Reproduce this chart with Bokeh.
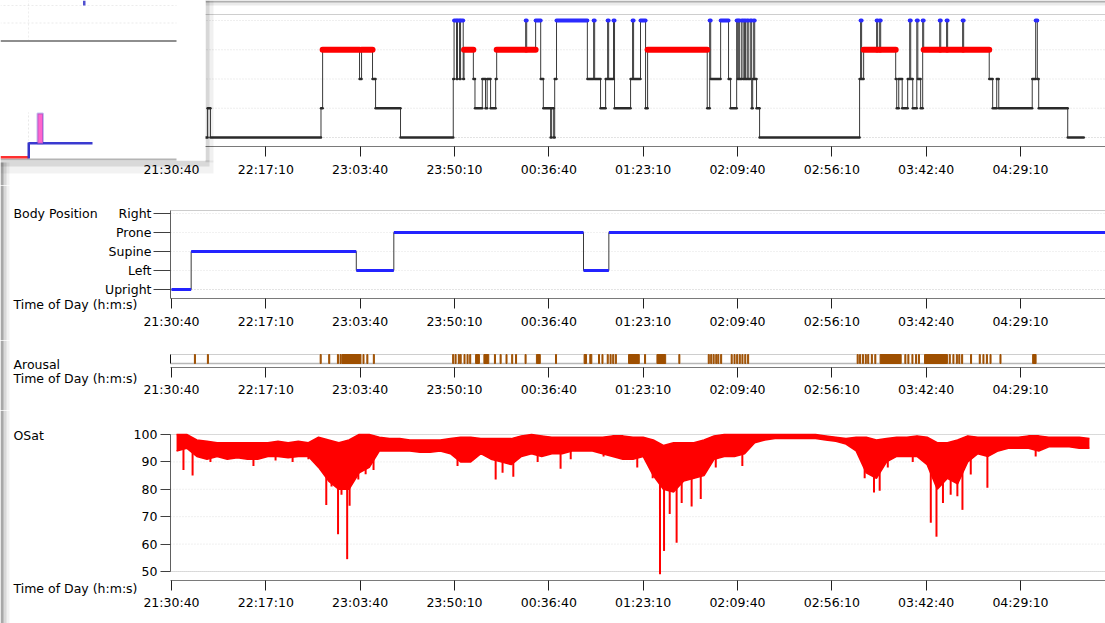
from bokeh.plotting import figure
from bokeh.layouts import column
from bokeh.models import FixedTicker, Range1d, BoxAnnotation, Label
from bokeh.embed import file_html
from bokeh.resources import INLINE

# ---------------- data (time = minutes after 21:30:40) ----------------
tick_labels = ["21:30:40", "22:17:10", "23:03:40", "23:50:10", "00:36:40",
               "01:23:10", "02:09:40", "02:56:10", "03:42:40", "04:29:10"]
tick_minutes = [0, 46.5, 93, 139.5, 186, 232.5, 279, 325.5, 372, 418.5]

# hypnogram: stage changes
hyp_start = [0, 17.8, 19.2, 73.7, 74.5, 92.7, 93.7, 99.1, 100.6, 112.9,
             138.9, 139.3, 140.5, 141.0, 142.0, 142.5, 143.8, 144.2, 148.8, 149.6,
             153.2, 154.8, 155.6, 157.3, 159.8, 160.3, 174.6, 175.1, 179.5, 182.0,
             183.3, 186.9, 187.4, 188.4, 188.9, 189.8, 205.0, 208.1, 208.6, 211.5,
             214.0, 215.0, 215.5, 217.9, 218.4, 226.3, 227.3, 227.8, 231.2, 233.7,
             234.7, 264.1, 265.3, 265.8, 270.7, 274.6, 275.6, 278.6, 279.1, 279.6,
             280.1, 281.1, 281.8, 282.5, 283.0, 283.8, 284.3, 285.3, 286.0, 286.5,
             287.0, 287.5, 288.4, 289.9, 339.2, 339.7, 340.2, 341.2, 347.6, 348.1,
             349.1, 349.6, 357.0, 357.5, 358.5, 360.2, 362.9, 363.9, 364.4, 365.4,
             367.4, 367.9, 369.3, 370.3, 370.8, 378.7, 379.2, 382.1, 382.6, 390.0,
             390.5, 403.1, 404.8, 406.8, 407.8, 424.3, 426.0, 426.8, 427.5, 441.8]
hyp_stage = ["N3", "N2", "N3", "N2", "REM", "N1", "REM", "N1", "N2", "N3",
             "N1", "W", "N1", "W", "N1", "W", "N1", "REM", "N1", "N2",
             "N1", "N2", "N1", "N2", "N1", "REM", "W", "REM", "W", "N1",
             "N2", "N3", "N2", "N3", "N1", "W", "N1", "W", "N1", "N2",
             "N1", "W", "N1", "W", "N2", "N1", "W", "N1", "W", "N2",
             "REM", "N2", "W", "N1", "W", "N1", "N2", "W", "N1", "W",
             "N1", "W", "N1", "W", "N1", "W", "N1", "W", "N2", "N1",
             "W", "N1", "N2", "N3", "N1", "W", "N1", "REM", "W", "REM",
             "W", "REM", "N1", "N2", "N1", "N2", "N1", "W", "N1", "N2",
             "W", "N1", "N2", "W", "REM", "W", "REM", "W", "REM", "W",
             "REM", "N1", "N2", "N1", "N2", "N1", "W", "N1", "N2", "N3"]
hyp_end = 449.7
stage_levels = {"N3": 0, "N2": 1, "N1": 2, "REM": 3, "W": 4}

# body position
bp_start = [0, 9.7, 91.1, 109.6, 203.1, 215.6]
bp_pos = ["Upright", "Supine", "Left", "Prone", "Left", "Prone"]
bp_end = 465.0
positions = ["Upright", "Left", "Supine", "Prone", "Right"]

# arousals
ar_start = [11.3, 17.7, 73.3, 77.5, 81.8, 83.1, 84.0, 94.4, 96.3, 99.5,
            138.6, 139.8, 141.4, 142.3, 144.2, 145.7, 147.0, 149.9, 154.0, 159.2,
            162.0, 164.9, 167.7, 169.6, 174.3, 179.9, 189.3, 203.4, 206.2, 210.5,
            212.2, 214.8, 216.2, 217.5, 218.8, 225.3, 233.2, 239.3, 250.1, 264.6,
            265.8, 267.0, 268.3, 269.3, 270.7, 275.9, 277.3, 278.6, 279.9, 281.2,
            282.6, 284.0, 338.0, 339.2, 340.6, 342.0, 343.2, 345.0, 346.7, 349.3,
            361.5, 363.0, 365.0, 366.8, 368.2, 371.2, 383.4, 385.2, 386.9, 388.1,
            389.5, 393.9, 398.2, 400.0, 401.7, 403.5, 408.4, 424.5]
ar_end = [11.8, 18.2, 73.8, 78.0, 82.3, 83.6, 93.4, 94.9, 96.8, 100.0,
          139.1, 140.3, 141.9, 142.8, 144.7, 146.2, 147.5, 151.8, 156.4, 159.7,
          162.5, 165.4, 168.2, 170.1, 174.8, 181.8, 189.8, 204.6, 207.2, 211.0,
          212.7, 215.3, 216.7, 218.0, 219.3, 230.6, 233.7, 243.6, 250.6, 265.1,
          266.3, 267.5, 268.8, 269.8, 271.2, 276.4, 277.8, 279.1, 280.4, 281.7,
          283.1, 284.5, 338.5, 339.7, 341.1, 342.5, 343.7, 345.5, 347.2, 359.7,
          362.0, 363.5, 365.5, 367.3, 368.7, 382.5, 383.9, 385.7, 387.4, 388.6,
          390.0, 394.4, 398.7, 400.5, 402.2, 404.0, 408.9, 426.2]

# oxygen saturation: 5-minute bins, upper / lower edge of the dense trace
osat_bin = 5.0
osat_hi = [100, 100, 98, 97.5, 97, 97, 97, 97, 97, 97,
           97.5, 97, 97.5, 97, 99, 98, 97, 98, 100, 100,
           99, 98.5, 98.5, 98, 98, 98, 98, 98.5, 99, 99,
           98.5, 98.5, 98.5, 98.5, 99.5, 100, 99.5, 99, 99, 99,
           99, 99, 99, 99.5, 99.5, 99, 99, 98, 96, 97,
           97, 97, 98, 99.5, 100, 100, 100, 100, 100, 100,
           100, 100, 100, 100, 99.5, 99, 98.5, 99, 99, 98,
           98.5, 99, 99, 99.5, 99, 97, 97, 98, 99.5, 99,
           99, 99, 99, 99, 99.5, 99.5, 99, 99, 99, 99,
           98.5]
osat_lo = [94, 95, 92, 91, 92, 91, 91.5, 91, 91, 92,
           92, 91.5, 92, 92, 88, 83, 80, 80, 86, 88,
           94, 94, 94, 94, 93.5, 93.5, 94, 93, 90, 90,
           93, 91, 90, 89, 92, 93, 92, 93, 93, 94,
           94, 94, 93, 92, 91, 91, 92, 85, 80, 79,
           83, 84, 85, 91, 92, 92, 93, 97, 98, 98.5,
           98.5, 98.5, 98.5, 98.5, 98, 97.5, 96.5, 94, 86, 84,
           90, 92, 92, 92, 89, 80, 84, 82, 90, 93,
           92, 94, 95, 95, 95, 94, 95.5, 95.5, 95.5, 95,
           95]
# brief desaturation spikes: time and lowest value
spike_t = [5.9, 10.4, 19.2, 40.4, 51.3, 59.7, 67.5, 76.3, 78.9, 82.1,
           83.8, 86.6, 87.8, 92.1, 95.7, 99.6, 141.0, 159.8, 163.2, 168.5,
           180.5, 191.8, 196.8, 213.0, 229.6, 237.2, 240.8, 242.8, 245.6, 249.0,
           251.5, 256.4, 260.9, 268.3, 281.4, 341.7, 346.3, 349.1, 353.1, 365.4,
           374.3, 377.1, 380.3, 384.1, 387.4, 389.9, 394.0, 402.2, 426.0]
spike_v = [87, 85, 90, 88.5, 90.5, 90, 91, 74.3, 81, 63.6,
           78, 54.5, 74, 83.6, 85.5, 87, 88.5, 83.6, 86, 84.6,
           90, 87.5, 91, 92, 88, 84, 49, 57.5, 71, 60.5,
           75, 73.7, 76.5, 88, 88.5, 84, 78.8, 79.5, 88, 90,
           67.8, 62.7, 75, 78, 77.5, 72.5, 85.4, 80.6, 92]
osat_ticks = [50, 60, 70, 80, 90, 100]

assert len(hyp_start) == len(hyp_stage)
assert len(ar_start) == len(ar_end)
assert len(osat_hi) == len(osat_lo)
assert len(spike_t) == len(spike_v)

# ---------------- styling ----------------
FONT = "DejaVu Sans"
FS = "12.5px"
TXT = "#000000"
W = 1105
X0, X1 = -84.29, 460.42      # whole canvas width
YAX = -0.5                   # where the value axes sit (just before 21:30:40)
LABEL_X = -77.9              # left-hand captions


def base_fig(height, y0, y1, xaxis_at):
    p = figure(width=W, height=height, x_range=Range1d(X0, X1), y_range=Range1d(y0, y1),
               output_backend="svg", toolbar_location=None, min_border=0)
    p.min_border_left = p.min_border_right = p.min_border_top = p.min_border_bottom = 0
    p.outline_line_color = None
    p.background_fill_color = "white"
    p.border_fill_color = "white"
    p.xgrid.visible = False
    p.ygrid.visible = False
    xa = p.xaxis[0]
    xa.fixed_location = xaxis_at
    xa.bounds = (YAX, X1)
    xa.ticker = FixedTicker(ticks=tick_minutes)
    xa.major_label_overrides = dict(zip(tick_minutes, tick_labels))
    xa.minor_tick_line_color = None
    xa.major_tick_in = 0
    xa.major_tick_out = 10
    xa.axis_line_color = "#7a7a7a"
    xa.major_tick_line_color = "#202020"
    xa.major_label_text_font = FONT
    xa.major_label_text_font_size = FS
    xa.major_label_text_color = TXT
    xa.major_label_standoff = 5
    ya = p.yaxis[0]
    ya.fixed_location = YAX
    ya.minor_tick_line_color = None
    ya.major_tick_in = 0
    ya.major_tick_out = 10
    ya.axis_line_color = "#606060"
    ya.major_tick_line_color = "#404040"
    ya.major_label_text_font = FONT
    ya.major_label_text_font_size = FS
    ya.major_label_text_color = TXT
    ya.major_label_standoff = 3
    return p


def hline(p, y, color, dash="1 2", lw=1):
    p.add_layout(BoxAnnotation(left=YAX, top=y, bottom=y, fill_color=None, fill_alpha=0,
                               line_color=color, line_dash=dash, line_width=lw,
                               level="underlay"))


def caption(p, y, text):
    p.add_layout(Label(x=LABEL_X, y=y, text=text, text_font=FONT, text_font_size=FS,
                       text_color=TXT, text_baseline="middle", text_align="left"))


def cbox(p, l, r, t, b, fill, alpha=1.0, line=None, lw=1, dash="solid"):
    p.add_layout(BoxAnnotation(left=l, right=r, top=t, bottom=b,
                               left_units="canvas", right_units="canvas",
                               top_units="canvas", bottom_units="canvas",
                               fill_color=fill, fill_alpha=alpha,
                               line_color=line, line_width=lw, line_dash=dash,
                               level="overlay"))


def window_edge(p, height, top=0):
    # grey border of the captured window on the left side
    cbox(p, 0, 3, top, height, "#000000", 0.22)
    cbox(p, 0, 6, top, height, "#000000", 0.10)
    cbox(p, 0, 9, top, height, "#000000", 0.05)


# ---------------- 1. hypnogram ----------------
p1 = base_fig(185, -1.641, 4.684, -0.308)
p1.yaxis.visible = False
for lev in [0, 1, 2, 3, 4]:
    hline(p1, lev, "#9a9a9a" if lev == 0 else "#c8c8c8")
hline(p1, 4.205, "#a0a0a0", dash="solid")
hyp_lvl = [stage_levels[s] for s in hyp_stage]
hyp_stop = hyp_start[1:] + [hyp_end]
p1.step(x=hyp_start + [hyp_end], y=hyp_lvl + [hyp_lvl[-1]], mode="after",
        line_color="#3a3a3a", line_width=1)
for stages, col, lw in [(("N1", "N2", "N3"), "#2a2a2a", 2.5),
                        (("REM",), "#ff0000", 6),
                        (("W",), "#2b2bff", 4)]:
    idx = [i for i, s in enumerate(hyp_stage) if s in stages]
    p1.segment(x0=[hyp_start[i] for i in idx], x1=[hyp_stop[i] for i in idx],
               y0=[hyp_lvl[i] for i in idx], y1=[hyp_lvl[i] for i in idx],
               line_color=col, line_width=lw, line_cap="round")

# overlapping window in the top-left corner of the screenshot
cbox(p1, 205, 1105, 0, 2, "#000000", 0.25)
cbox(p1, 205, 1105, 0, 5, "#000000", 0.08)
cbox(p1, 205, 213, 0, 162, "#000000", 0.06)
cbox(p1, 205, 209, 0, 161, "#000000", 0.10)
cbox(p1, 0, 213, 160, 173, "#000000", 0.05)
cbox(p1, 0, 209, 160, 166, "#000000", 0.10)
cbox(p1, 0, 205, 0, 160, "white", 1.0)
cbox(p1, 0, 176, 5, 5, None, 0.0, line="#b8b8b8", dash="1 3")
cbox(p1, 82.5, 85, 0, 5, "#5050d0")
cbox(p1, 0, 176, 22.5, 22.5, None, 0.0, line="#b8b8b8", dash="1 3")
cbox(p1, 28, 28, 0, 40, None, 0.0, line="#c0c0c0", dash="1 3")
cbox(p1, 28, 28, 112, 140, None, 0.0, line="#b0b0b0", dash="1 3")
cbox(p1, 0, 176, 39.5, 41.5, "#8e8e8e")
cbox(p1, 0, 176, 158, 160, "#b4b4b4")
cbox(p1, 0, 28, 155.5, 158, "#ff3030")
cbox(p1, 27, 29.5, 142, 158, "#3434c8")
cbox(p1, 28, 92, 141.5, 144, "#3a3ad0")
cbox(p1, 37, 42.5, 113, 143, "#ff66cc", 1.0, line="#3434c8", lw=2)
window_edge(p1, 185, 162)

# ---------------- 2. body position ----------------
p2 = base_fig(155, -2.684, 5.474, -0.474)
ya2 = p2.yaxis[0]
ya2.ticker = FixedTicker(ticks=[0, 1, 2, 3, 4])
ya2.major_label_overrides = {i: n for i, n in enumerate(positions)}
ya2.bounds = (-0.474, 4.158)
ya2.major_tick_out = 17
ya2.major_label_standoff = 2
for lev in [0, 1, 2, 3, 4]:
    hline(p2, lev, "#9a9a9a" if lev == 0 else "#cccccc")
hline(p2, 4.158, "#9a9a9a", dash="solid")
bp_lvl = [positions.index(s) for s in bp_pos]
bp_stop = bp_start[1:] + [bp_end]
p2.step(x=bp_start + [bp_end], y=bp_lvl + [bp_lvl[-1]], mode="after",
        line_color="#3a3a3a", line_width=1)
p2.segment(x0=bp_start, x1=bp_stop, y0=bp_lvl, y1=bp_lvl,
           line_color="#2323ff", line_width=3)
caption(p2, 4.0, "Body Position")
caption(p2, -0.79, "Time of Day (h:m:s)")
window_edge(p2, 155)

# ---------------- 3. arousal ----------------
p3 = base_fig(70, -5.222, 2.556, -0.444)
ya3 = p3.yaxis[0]
ya3.ticker = FixedTicker(ticks=[])
ya3.major_label_text_font_size = "0px"
ya3.axis_line_color = "#101010"
ya3.bounds = (0, 1)
hline(p3, 1, "#a0a0a0", dash="solid")
p3.quad(left=ar_start, right=ar_end, bottom=0, top=1,
        fill_color="#9e4f00", line_color="#9e4f00", line_width=1)
hline(p3, 0, "#101010", dash="solid", lw=1.5)
caption(p3, -0.1, "Arousal")
caption(p3, -1.67, "Time of Day (h:m:s)")
window_edge(p3, 70)

# ---------------- 4. oxygen saturation ----------------
p4 = base_fig(213, 31.02, 108.76, 46.72)
ya4 = p4.yaxis[0]
ya4.ticker = FixedTicker(ticks=osat_ticks)
ya4.bounds = (50, 100)
for lev in [60, 70, 80, 90]:
    hline(p4, lev, "#cccccc")
for lev in (50, 100):
    hline(p4, lev, "#7c7c7c", dash="1 1")
bin_mid = [i * osat_bin + osat_bin / 2 for i in range(len(osat_hi))]
p4.varea(x=bin_mid, y1=osat_lo, y2=osat_hi, fill_color="#ff0000")
p4.line(x=bin_mid, y=osat_hi, line_color="#ff0000", line_width=1.5)
p4.line(x=bin_mid, y=osat_lo, line_color="#ff0000", line_width=1.5)
spike_top = [osat_hi[min(int(t // osat_bin), len(osat_hi) - 1)] - 3 for t in spike_t]
p4.segment(x0=spike_t, x1=spike_t, y0=spike_v, y1=spike_top,
           line_color="#ff0000", line_width=2)
caption(p4, 99.6, "OSat")
caption(p4, 43.7, "Time of Day (h:m:s)")
window_edge(p4, 213)

layout = column(p1, p2, p3, p4, spacing=0)
open("out.html", "w").write(file_html(layout, INLINE))
